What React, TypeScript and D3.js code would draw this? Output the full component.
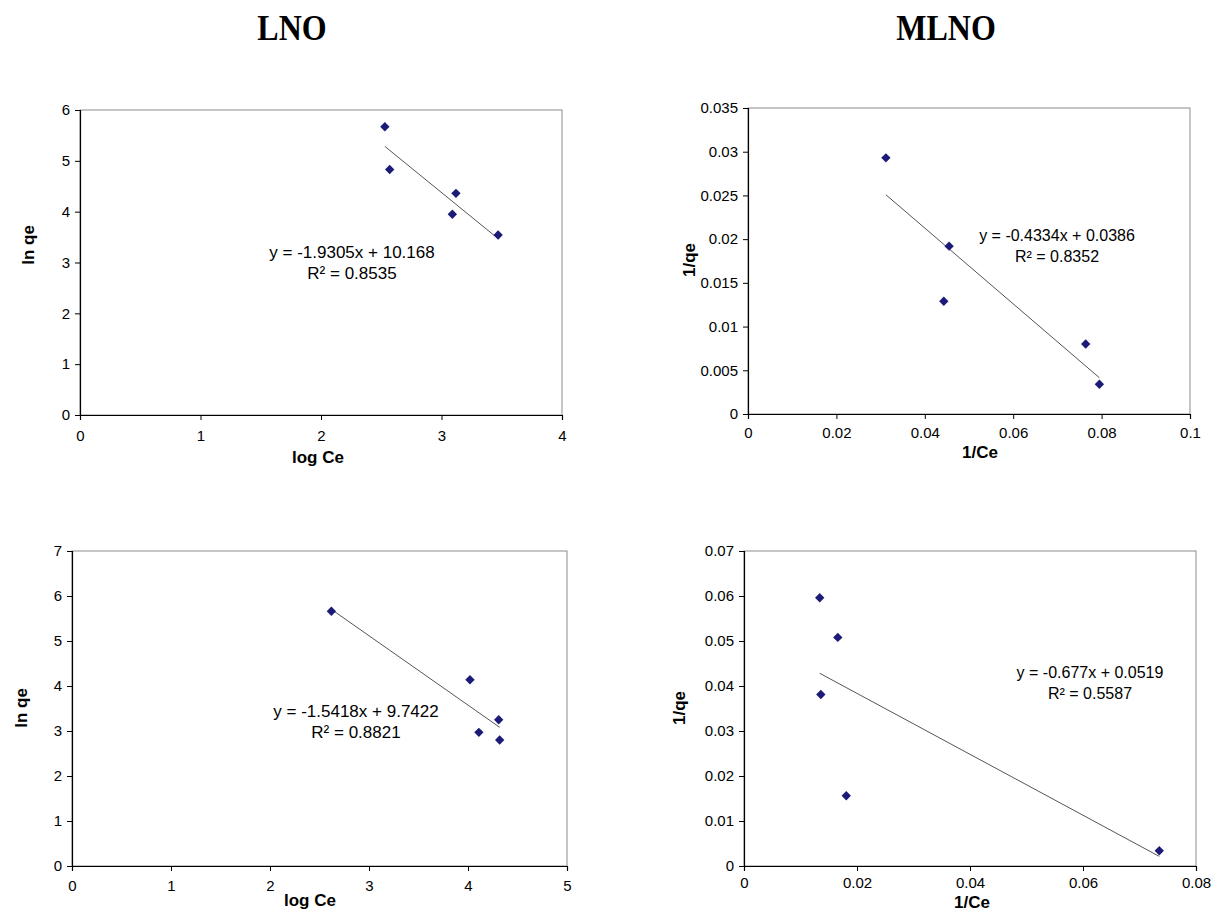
import * as d3 from 'd3';
import { useEffect, useRef } from 'react';

// LNO - Freundlich (top) and Temkin-like (bottom) plots: ln qe vs log Ce
const lnoTopX = [2.53, 2.57, 3.12, 3.09, 3.47];
const lnoTopY = [5.67, 4.83, 4.36, 3.95, 3.54];
const lnoBottomX = [2.62, 4.02, 4.11, 4.31, 4.32];
const lnoBottomY = [5.66, 4.14, 2.97, 3.25, 2.8];

// MLNO - Langmuir plots: 1/qe vs 1/Ce
const mlnoTopX = [0.0312, 0.0455, 0.0443, 0.0764, 0.0795];
const mlnoTopY = [0.0293, 0.0192, 0.0129, 0.008, 0.0034];
const mlnoBottomX = [0.0134, 0.0166, 0.0136, 0.0181, 0.0735];
const mlnoBottomY = [0.0596, 0.0508, 0.0381, 0.0156, 0.0034];

// trendline equations as printed on the charts
const fits = [
  { slope: -1.9305, intercept: 10.168, eq: 'y = -1.9305x + 10.168', r2: 'R² = 0.8535' },
  { slope: -0.4334, intercept: 0.0386, eq: 'y = -0.4334x + 0.0386', r2: 'R² = 0.8352' },
  { slope: -1.5418, intercept: 9.7422, eq: 'y = -1.5418x + 9.7422', r2: 'R² = 0.8821' },
  { slope: -0.677, intercept: 0.0519, eq: 'y = -0.677x + 0.0519', r2: 'R² = 0.5587' },
];

const logTicks4 = [0, 1, 2, 3, 4];
const logTicks5 = [0, 1, 2, 3, 4, 5];
const lnTicks6 = [0, 1, 2, 3, 4, 5, 6];
const lnTicks7 = [0, 1, 2, 3, 4, 5, 6, 7];
const invCeTicksTop = [0, 0.02, 0.04, 0.06, 0.08, 0.1];
const invQeTicksTop = [0, 0.005, 0.01, 0.015, 0.02, 0.025, 0.03, 0.035];
const invCeTicksBottom = [0, 0.02, 0.04, 0.06, 0.08];
const invQeTicksBottom = [0, 0.01, 0.02, 0.03, 0.04, 0.05, 0.06, 0.07];

const panels = [
  {
    xs: lnoTopX, ys: lnoTopY, fit: fits[0], xTicks: logTicks4, yTicks: lnTicks6,
    box: { left: 80, right: 562, top: 110, bottom: 415 }, pad: 10,
    xLabel: 'log Ce', xLabelPos: [318, 463], yLabel: 'ln qe', yLabelPos: [28, 245],
    eqPos: [352, 258], eqSize: 17,
  },
  {
    xs: mlnoTopX, ys: mlnoTopY, fit: fits[1], xTicks: invCeTicksTop, yTicks: invQeTicksTop,
    box: { left: 748, right: 1190, top: 108, bottom: 414 }, pad: 8,
    xLabel: '1/Ce', xLabelPos: [980, 458], yLabel: '1/qe', yLabelPos: [689, 260],
    eqPos: [1057, 241], eqSize: 16,
  },
  {
    xs: lnoBottomX, ys: lnoBottomY, fit: fits[2], xTicks: logTicks5, yTicks: lnTicks7,
    box: { left: 72, right: 567, top: 551, bottom: 866 }, pad: 9,
    xLabel: 'log Ce', xLabelPos: [310, 906], yLabel: 'ln qe', yLabelPos: [21, 708],
    eqPos: [356, 717], eqSize: 17,
  },
  {
    xs: mlnoBottomX, ys: mlnoBottomY, fit: fits[3], xTicks: invCeTicksBottom, yTicks: invQeTicksBottom,
    box: { left: 744, right: 1196, top: 551, bottom: 866 }, pad: 6,
    xLabel: '1/Ce', xLabelPos: [972, 908], yLabel: '1/qe', yLabelPos: [679, 708],
    eqPos: [1090, 678], eqSize: 16,
  },
];

const fmt = (d) => String(+(+d).toFixed(4));

const App = () => {
  const ref = useRef();

  useEffect(() => {
    const svg = d3.select(ref.current);
    svg.selectAll('*').remove();

    [['LNO', 292], ['MLNO', 946]].forEach(([label, cx]) => {
      svg.append('text')
        .attr('transform', `translate(${cx},40) scale(1,1.15)`)
        .attr('text-anchor', 'middle')
        .attr('font-family', 'Liberation Serif, Times New Roman, serif')
        .attr('font-weight', 'bold')
        .attr('font-size', 32)
        .text(label);
    });

    panels.forEach((p) => {
      const { left, right, top, bottom } = p.box;
      const xTicks = p.xTicks;
      const yTicks = p.yTicks;
      const x = d3.scaleLinear().domain([0, xTicks[xTicks.length - 1]]).range([left, right]);
      const y = d3.scaleLinear().domain([0, yTicks[yTicks.length - 1]]).range([bottom, top]);

      const g = svg.append('g');

      // plot frame (top/right light gray)
      g.append('rect')
        .attr('x', left).attr('y', top)
        .attr('width', right - left).attr('height', bottom - top)
        .attr('fill', 'none').attr('stroke', '#8c8c8c').attr('stroke-width', 1);

      const xAxis = g.append('g')
        .attr('transform', `translate(0,${bottom})`)
        .call(d3.axisBottom(x).tickValues(xTicks).tickFormat(fmt).tickSize(5).tickPadding(p.pad));
      const yAxis = g.append('g')
        .attr('transform', `translate(${left},0)`)
        .call(d3.axisLeft(y).tickValues(yTicks).tickFormat(fmt).tickSize(5).tickPadding(5));

      [xAxis, yAxis].forEach((a) => {
        a.select('.domain').attr('stroke', '#000').attr('stroke-width', 1.2);
        a.selectAll('.tick line').attr('stroke', '#000');
        a.selectAll('.tick text')
          .attr('font-family', 'Liberation Sans, Arial, sans-serif')
          .attr('font-size', 15).attr('fill', '#000');
      });

      // axis titles
      g.append('text')
        .attr('x', p.xLabelPos[0]).attr('y', p.xLabelPos[1])
        .attr('text-anchor', 'middle')
        .attr('font-family', 'Liberation Sans, Arial, sans-serif')
        .attr('font-weight', 'bold').attr('font-size', 17)
        .text(p.xLabel);
      g.append('text')
        .attr('transform', `translate(${p.yLabelPos[0]},${p.yLabelPos[1]}) rotate(-90)`)
        .attr('text-anchor', 'middle').attr('dy', '0.35em')
        .attr('font-family', 'Liberation Sans, Arial, sans-serif')
        .attr('font-weight', 'bold').attr('font-size', 17)
        .text(p.yLabel);

      // linear trendline over the data range
      const [xMin, xMax] = d3.extent(p.xs);
      const line = d3.line().x((d) => x(d)).y((d) => y(p.fit.slope * d + p.fit.intercept));
      g.append('path')
        .datum([xMin, xMax])
        .attr('d', line)
        .attr('fill', 'none').attr('stroke', '#555').attr('stroke-width', 1);

      // diamond markers
      const diamond = d3.symbol().type(d3.symbolDiamond2).size(56);
      g.selectAll('.pt')
        .data(p.xs.map((v, i) => [v, p.ys[i]]))
        .enter()
        .append('path')
        .attr('class', 'pt')
        .attr('transform', (d) => `translate(${x(d[0])},${y(d[1])})`)
        .attr('d', diamond)
        .attr('fill', '#1c1c78');

      // equation label
      const eq = g.append('text')
        .attr('text-anchor', 'middle')
        .attr('font-family', 'Liberation Sans, Arial, sans-serif')
        .attr('font-size', p.eqSize).attr('fill', '#000');
      eq.append('tspan').attr('x', p.eqPos[0]).attr('y', p.eqPos[1]).text(p.fit.eq);
      eq.append('tspan').attr('x', p.eqPos[0]).attr('y', p.eqPos[1] + 21).text(p.fit.r2);
    });
  }, []);

  return (
    <svg
      ref={ref}
      width={1215}
      height={911}
      style={{ position: 'absolute', left: 0, top: 0, background: '#fff' }}
    ></svg>
  );
};

export default App;
